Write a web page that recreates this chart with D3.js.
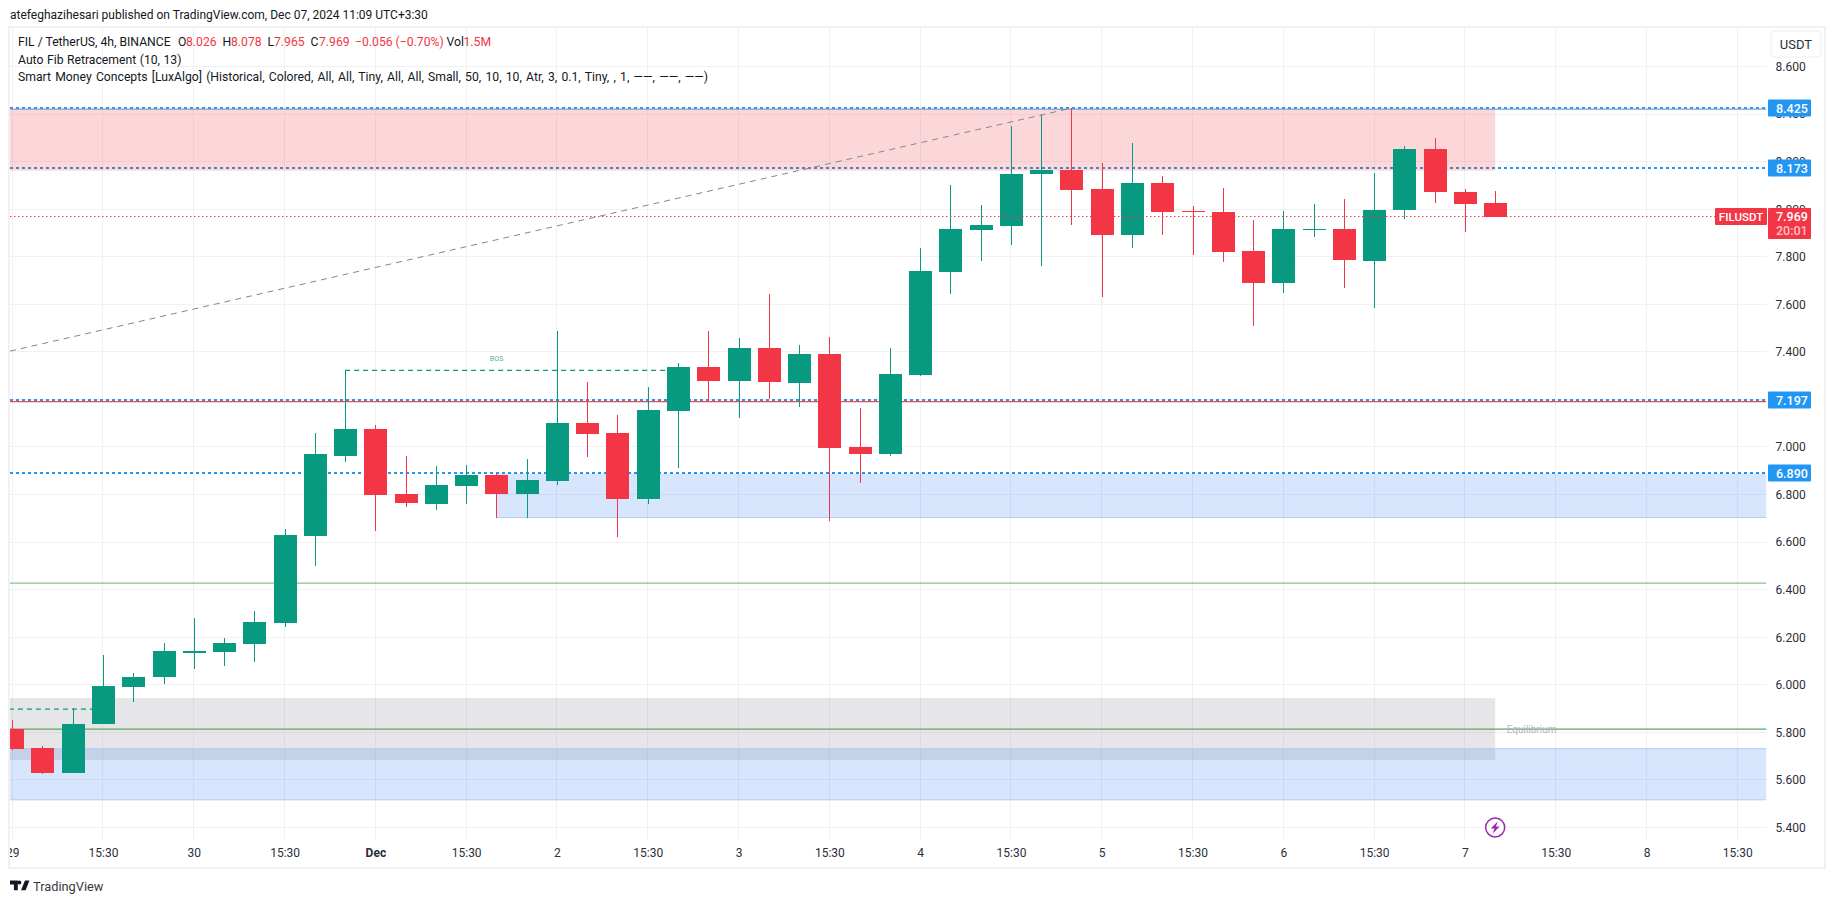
<!DOCTYPE html>
<html>
<head>
<meta charset="utf-8">
<style>
  html, body { margin: 0; padding: 0; background: #fff; overflow: hidden; }
  svg { display: block; }
  text { font-family: Roboto, "Liberation Sans", sans-serif; }
  .axis text { font-size: 12px; fill: #2a2e39; }
  .axis path, .axis line { display: none; }
  .legend { font-size: 12.2px; fill: #131722; }
</style>
</head>
<body>
<div id="chart"></div>
<script src="https://d3js.org/d3.v7.min.js"></script>
<script>
  // 4h candles, first one is Nov 29 03:30
  const opens = [5.813, 5.734, 5.629, 5.835, 5.991, 6.033, 6.135, 6.138, 6.172, 6.260,
    6.626, 6.962, 7.076, 6.802, 6.760, 6.836, 6.882, 6.802, 6.857, 7.101,
    7.059, 6.781, 7.151, 7.336, 7.277, 7.416, 7.269, 7.391, 7.000, 6.970,
    7.303, 7.736, 7.912, 7.929, 8.148, 8.165, 8.085, 7.891, 8.110, 7.992,
    7.988, 7.824, 7.690, 7.912, 7.917, 7.782, 7.997, 8.253, 8.072, 8.026];
  const highs = [5.852, 5.743, 5.902, 6.125, 6.050, 6.176, 6.281, 6.197, 6.310, 6.655,
    7.059, 7.322, 7.092, 6.962, 6.920, 6.924, 6.891, 6.950, 7.488, 7.273,
    7.134, 7.252, 7.353, 7.488, 7.458, 7.643, 7.429, 7.463, 7.164, 7.416,
    7.837, 8.102, 8.018, 8.350, 8.396, 8.425, 8.194, 8.278, 8.140, 8.013,
    8.089, 7.954, 7.992, 8.022, 8.043, 8.152, 8.266, 8.299, 8.085, 8.078];
  const lows = [5.726, 5.625, 5.629, 5.835, 5.928, 6.003, 6.066, 6.079, 6.096, 6.243,
    6.500, 6.937, 6.647, 6.748, 6.735, 6.760, 6.701, 6.701, 6.840, 6.958,
    6.621, 6.760, 6.912, 7.192, 7.122, 7.202, 7.168, 6.689, 6.849, 6.962,
    7.299, 7.643, 7.782, 7.849, 7.761, 7.933, 7.631, 7.837, 7.891, 7.807,
    7.778, 7.509, 7.648, 7.883, 7.669, 7.584, 7.959, 8.026, 7.904, 7.965];
  const closes = [5.730, 5.629, 5.835, 5.995, 6.033, 6.142, 6.140, 6.176, 6.264, 6.630,
    6.970, 7.076, 6.798, 6.764, 6.840, 6.882, 6.802, 6.861, 7.101, 7.055,
    6.781, 7.155, 7.336, 7.277, 7.416, 7.273, 7.391, 6.996, 6.970, 7.307,
    7.740, 7.917, 7.933, 8.148, 8.165, 8.081, 7.891, 8.110, 7.988, 7.988,
    7.820, 7.690, 7.917, 7.917, 7.786, 7.997, 8.253, 8.072, 8.022, 7.969];

  const priceTicks = d3.range(0, 17).map((k) => +(5.4 + k * 0.2).toFixed(1));
  const timeTickIdx = d3.range(0, 20).map((k) => k * 3);
  const timeTickLabels = ['29', '15:30', '30', '15:30', 'Dec', '15:30', '2', '15:30', '3', '15:30',
    '4', '15:30', '5', '15:30', '6', '15:30', '7', '15:30', '8', '15:30'];

  // horizontal levels of the indicators
  const dottedLevels = [8.425, 8.173, 7.197, 6.890];
  const solidLevels = [8.421, 7.191, 6.427, 5.813];
  const solidColors = ['#7f9fd0', '#ef4b4b', '#81c784', '#59a85c'];
  const lastPrice = 7.969;

  // zones: top price, bottom price, first candle, last candle (null = runs to the axis)
  const zoneTops = [8.421, 6.888, 5.731, 5.944];
  const zoneBottoms = [8.162, 6.703, 5.516, 5.684];
  const zoneFrom = [-1, 16, -1, -1];
  const zoneTo = [49, null, null, 49];
  const zoneColors = ['rgba(242,54,69,0.2)', 'rgba(33,110,243,0.18)', 'rgba(33,110,243,0.18)', 'rgba(120,123,134,0.19)'];

  const fibLine = [{ i: -0.07, p: 7.403 }, { i: 35, p: 8.425 }];
  const bosLines = [{ from: 11, to: 22, p: 7.322 }, { from: -1, to: 3, p: 5.897 }];

  const width = 1835;
  const height = 903;
  const plot = { left: 10, right: 1766.5, top: 28, bottom: 840 };

  const svg = d3.select('#chart').append('svg')
    .attr('width', width)
    .attr('height', height);

  const x = d3.scaleLinear().domain([0, 57]).range([12.2, 1737.3]);
  const y = d3.scaleLinear().domain([5.4, 8.6]).range([827.4, 66.5]);

  svg.append('defs').append('clipPath').attr('id', 'plot-clip')
    .append('rect')
    .attr('x', plot.left)
    .attr('y', plot.top)
    .attr('width', plot.right - plot.left)
    .attr('height', plot.bottom - plot.top);

  // publisher line
  svg.append('text').attr('x', 10).attr('y', 19)
    .attr('font-size', 12).attr('fill', '#131722')
    .text('atefeghazihesari published on TradingView.com, Dec 07, 2024 11:09 UTC+3:30');

  // outer frame
  svg.append('rect')
    .attr('x', 9).attr('y', 27)
    .attr('width', 1816).attr('height', 841)
    .attr('fill', 'none')
    .attr('stroke', '#f0f0f5')
    .attr('stroke-width', 2);

  // grid
  const grid = svg.append('g').attr('stroke', '#f0f1f4').attr('stroke-width', 1).attr('shape-rendering', 'crispEdges');
  grid.selectAll('.h').data(priceTicks).join('line')
    .attr('x1', plot.left).attr('x2', plot.right)
    .attr('y1', (d) => y(d)).attr('y2', (d) => y(d));
  grid.selectAll('.v').data(timeTickIdx).join('line')
    .attr('x1', (d) => x(d)).attr('x2', (d) => x(d))
    .attr('y1', plot.top).attr('y2', plot.bottom);

  const chart = svg.append('g').attr('clip-path', 'url(#plot-clip)');

  // dotted levels
  chart.selectAll('.dotted').data(dottedLevels).join('line')
    .attr('x1', plot.left).attr('x2', plot.right)
    .attr('y1', (d) => y(d)).attr('y2', (d) => y(d))
    .attr('stroke', '#2196f3')
    .attr('stroke-width', 2)
    .attr('stroke-dasharray', '3 3');

  // zones
  zoneTops.forEach((top, k) => {
    const x0 = x(zoneFrom[k]);
    const x1 = zoneTo[k] === null ? plot.right : x(zoneTo[k]);
    chart.append('rect')
      .attr('x', x0)
      .attr('y', y(top))
      .attr('width', x1 - x0)
      .attr('height', y(zoneBottoms[k]) - y(top))
      .attr('fill', zoneColors[k]);
  });
  // zone edges of the two blue boxes
  [[1, 6.703], [2, 5.731], [2, 5.516]].forEach(([k, p]) => {
    chart.append('line')
      .attr('x1', x(zoneFrom[k])).attr('x2', plot.right)
      .attr('y1', y(p)).attr('y2', y(p))
      .attr('stroke', '#b3cbf7').attr('stroke-width', 1);
  });

  // solid levels
  chart.selectAll('.solid').data(solidLevels).join('line')
    .attr('x1', plot.left).attr('x2', plot.right)
    .attr('y1', (d) => y(d)).attr('y2', (d) => y(d))
    .attr('stroke', (d, k) => solidColors[k])
    .attr('stroke-width', 1.3);

  // auto fib trend line
  chart.append('path')
    .datum(fibLine)
    .attr('d', d3.line().x((d) => x(d.i)).y((d) => y(d.p)))
    .attr('fill', 'none')
    .attr('stroke', '#84868f')
    .attr('stroke-width', 1)
    .attr('stroke-dasharray', '6 5');

  // BOS dashes
  chart.selectAll('.bos').data(bosLines).join('line')
    .attr('x1', (d) => x(d.from)).attr('x2', (d) => x(d.to))
    .attr('y1', (d) => y(d.p)).attr('y2', (d) => y(d.p))
    .attr('stroke', '#089981')
    .attr('stroke-width', 1.2)
    .attr('stroke-dasharray', '5 4');
  chart.append('text')
    .attr('x', x(16)).attr('y', y(7.322) - 9)
    .attr('text-anchor', 'middle')
    .attr('font-size', 7)
    .attr('fill', '#089981')
    .attr('opacity', 0.75)
    .text('BOS');

  // last price dotted line
  svg.append('line')
    .attr('x1', plot.left).attr('x2', 1715)
    .attr('y1', y(lastPrice)).attr('y2', y(lastPrice))
    .attr('stroke', '#f23645')
    .attr('stroke-width', 1)
    .attr('stroke-dasharray', '1.5 2.5');

  chart.append('text')
    .attr('x', x(49) + 11.5).attr('y', y(5.813) + 3.5)
    .attr('font-size', 10)
    .attr('fill', '#b2b5be')
    .text('Equilibrium');

  // candles
  const candles = chart.append('g').attr('shape-rendering', 'crispEdges');
  const color = (k) => (closes[k] >= opens[k] ? '#089981' : '#f23645');
  candles.selectAll('.wick').data(opens).join('line')
    .attr('x1', (d, k) => Math.round(x(k)) + 0.5)
    .attr('x2', (d, k) => Math.round(x(k)) + 0.5)
    .attr('y1', (d, k) => y(highs[k]))
    .attr('y2', (d, k) => y(lows[k]))
    .attr('stroke', (d, k) => color(k))
    .attr('stroke-width', 1);
  candles.selectAll('.body').data(opens).join('rect')
    .attr('x', (d, k) => Math.round(x(k)) - 11)
    .attr('width', 23)
    .attr('y', (d, k) => y(Math.max(d, closes[k])))
    .attr('height', (d, k) => Math.max(1, Math.abs(y(d) - y(closes[k]))))
    .attr('fill', (d, k) => color(k));

  // price axis
  svg.append('g')
    .attr('class', 'axis')
    .attr('transform', `translate(${plot.right + 9},0)`)
    .call(d3.axisRight(y).tickValues(priceTicks).tickSize(0).tickPadding(0).tickFormat(d3.format('.3f')));

  // time axis, labels clipped at the plot's left edge
  svg.append('clipPath').attr('id', 'time-clip').append('rect')
    .attr('x', plot.left).attr('y', 0).attr('width', plot.right - plot.left).attr('height', 26);
  const timeAxis = svg.append('g')
    .attr('class', 'axis')
    .attr('clip-path', 'url(#time-clip)')
    .attr('transform', 'translate(0,842)')
    .call(d3.axisBottom(x).tickValues(timeTickIdx).tickSize(0).tickPadding(6).tickFormat((d, k) => timeTickLabels[k]));
  timeAxis.selectAll('text').filter((d, k) => timeTickLabels[k] === 'Dec')
    .attr('font-weight', 'bold');

  // price labels
  const labels = svg.append('g').attr('font-size', 12.5).attr('font-weight', 500).attr('fill', '#fff');
  dottedLevels.forEach((p) => {
    labels.append('rect').attr('x', 1768).attr('y', y(p) - 8.5).attr('width', 43).attr('height', 17).attr('rx', 1).attr('fill', '#2196f3');
    labels.append('text').attr('x', 1776).attr('y', y(p) + 4.5).text(d3.format('.3f')(p));
  });
  labels.append('rect').attr('x', 1715).attr('y', 208).attr('width', 52).attr('height', 17).attr('rx', 1).attr('fill', '#f23645');
  labels.append('text').attr('x', 1741).attr('y', 221).attr('text-anchor', 'middle').attr('font-size', 11.5).text('FILUSDT');
  labels.append('rect').attr('x', 1768).attr('y', 208).attr('width', 43).attr('height', 31).attr('rx', 1).attr('fill', '#f23645');
  labels.append('text').attr('x', 1776).attr('y', y(lastPrice) + 4.5).text(d3.format('.3f')(lastPrice));
  labels.append('text').attr('x', 1776).attr('y', 235).attr('fill', '#fbc1c7').text('20:01');

  // currency button
  svg.append('rect')
    .attr('x', 1771).attr('y', 31)
    .attr('width', 50).attr('height', 26)
    .attr('rx', 4)
    .attr('fill', '#fff')
    .attr('stroke', '#eceef3');
  svg.append('text')
    .attr('x', 1796).attr('y', 48.5)
    .attr('text-anchor', 'middle')
    .attr('font-size', 13)
    .attr('fill', '#2a2e39')
    .text('USDT');

  // legend block
  const legendRow1 = [
    [18, 'FIL / TetherUS, 4h, BINANCE', '#131722'],
    [178, 'O', '#131722'], [186, '8.026', '#f23645'],
    [222.5, 'H', '#131722'], [231, '8.078', '#f23645'],
    [267.5, 'L', '#131722'], [274, '7.965', '#f23645'],
    [310.5, 'C', '#131722'], [319, '7.969', '#f23645'],
    [355, '\u22120.056 (\u22120.70%)', '#f23645'],
    [446.5, 'Vol', '#131722'], [463.5, '1.5M', '#f23645'],
  ];
  legendRow1.forEach(([lx, str, fill]) => {
    svg.append('text').attr('class', 'legend').attr('x', lx).attr('y', 46).style('fill', fill).text(str);
  });
  svg.append('text').attr('class', 'legend').attr('x', 18).attr('y', 63.5)
    .attr('word-spacing', 0.5)
    .text('Auto Fib Retracement (10, 13)');
  svg.append('text').attr('class', 'legend').attr('x', 18).attr('y', 80.5)
    .attr('word-spacing', 1.2)
    .text('Smart Money Concepts [LuxAlgo] (Historical, Colored, All, All, Tiny, All, All, Small, 50, 10, 10, Atr, 3, 0.1, Tiny, , 1, \u2014\u2014, \u2014\u2014, \u2014\u2014)');

  // lightning mark under the last candle
  const bolt = svg.append('g').attr('transform', `translate(${x(49)},${y(5.4)})`);
  bolt.append('circle').attr('r', 9.5).attr('fill', '#fff').attr('stroke', '#9c27b0').attr('stroke-width', 1.5);
  bolt.append('path').attr('d', 'M2.5 -6 L-4.5 1 L-0.8 1 L-2.5 6 L4.5 -1 L0.8 -1 Z').attr('fill', '#9c27b0');

  // TradingView logo and name
  svg.append('path')
    .attr('transform', 'translate(8.7,876.6) scale(0.65)')
    .attr('d', 'M14 6H2v6h6v9h6V6zm12 15h-7l6-15h7l-6 15zm-9.5-9a3 3 0 1 0 0-6 3 3 0 0 0 0 6z')
    .attr('fill', '#131722');
  svg.append('text')
    .attr('x', 33).attr('y', 890.5)
    .attr('font-size', 12.8)
    .attr('fill', '#363a45')
    .text('TradingView');
</script>
</body>
</html>
